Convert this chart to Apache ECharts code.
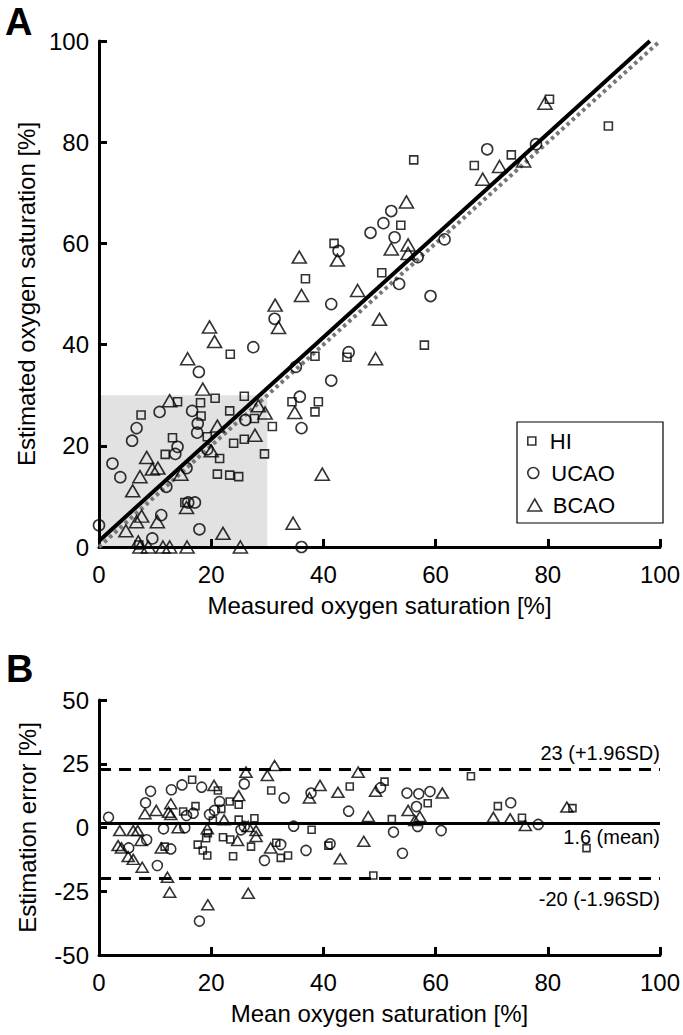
<!DOCTYPE html>
<html><head><meta charset="utf-8">
<script src="https://cdn.jsdelivr.net/npm/echarts@6/dist/echarts.min.js"></script>
<style>html,body{margin:0;padding:0;background:#fff}#c{width:683px;height:1035px}</style>
</head><body><div id="c"></div>
<script>
// ---------- Panel A data: measured vs estimated oxygen saturation [%] ----------
const hiMeasured   = [53.8,41.9,36.8,50.4,58.0,44.2,38.5,34.4,39.1,38.5,30.9,80.3,90.8,73.5,66.9,56.1,23.4,14.0,25.9,20.7,18.1,18.2,7.5,27.7,23.3,19.3,25.9,24.0,13.1,11.8,21.5,29.5,21.1,23.3,24.9,15.3,7.1];
const hiEstimated  = [63.6,60.0,53.0,54.2,39.9,37.5,37.7,28.7,28.7,26.7,23.8,88.5,83.2,77.5,75.4,76.5,38.1,28.7,29.8,29.4,28.5,25.9,26.1,25.4,26.9,21.8,21.3,20.5,21.6,18.3,17.5,18.4,14.4,14.2,13.9,8.8,0.4];
const ucaoMeasured = [52.1,50.7,48.4,52.7,56.8,61.6,42.7,53.5,59.1,31.3,41.4,44.5,35.1,41.4,35.8,36.1,36.1,69.2,77.9,27.5,17.8,10.8,16.6,26.1,17.6,6.7,17.5,5.9,14.0,13.6,19.3,2.4,15.6,3.8,12.0,15.9,17.1,11.1,0,17.9,9.5];
const ucaoEstimated= [66.4,64.0,62.1,61.2,57.3,60.8,58.5,52.0,49.6,45.1,48.0,38.5,35.6,32.9,29.7,23.5,0,78.6,79.6,39.5,34.6,26.7,26.9,25.1,24.4,23.5,22.6,21.0,19.8,18.4,19.3,16.5,15.6,13.8,11.9,8.8,8.8,6.3,4.3,3.5,1.7];
const bcaoMeasured = [54.8,52.1,55.1,55.1,42.5,35.7,36.1,46.1,31.4,32.0,50.0,49.3,34.9,39.8,34.6,79.5,71.4,75.7,68.4,19.7,20.6,15.8,18.5,12.6,28.4,29.6,21.1,27.8,20.0,8.5,9.5,10.5,14.6,7.3,6.0,15.6,7.6,6.7,10.4,4.8,22.1,7.0,7.3,8.8,11.4,12.6,15.7,25.2];
const bcaoEstimated= [68.2,58.9,59.7,58.0,56.7,57.3,49.7,50.7,47.8,43.4,45.0,37.2,26.6,14.4,4.7,87.7,75.2,76.3,72.7,43.5,40.6,37.2,31.2,28.9,27.9,26.5,23.9,22.1,19.0,17.7,15.4,15.6,14.4,13.9,11.1,7.8,6.1,5.0,5.0,3.2,2.7,1.0,0,0,0,0,0,0];
const fitLineX = [0, 98.2];
const fitLineY = [1.2, 100];
const identityX = [0, 100];
const identityY = [0, 100];
const shadedX = [0, 30];
const shadedY = [30, 30];
const panelATicks = [0, 20, 40, 60, 80, 100];

// ---------- Panel B data: Bland-Altman ----------
const hiMean   = [11.7,15.0,17.2,16.6,21.2,21.8,19.4,19.1,17.6,18.5,19.3,20.3,22.1,23.4,23.9,23.3,24.9,24.9,27.7,27.1,31.6,32.4,33.7,30.7,37.9,40.9,44.7,48.9,50.9,52.2,58.6,66.3,71.1,75.4,84.4,86.9];
const hiError  = [-7.5,6.3,8.4,18.7,14.5,7.3,-2.2,-4.2,-6.7,-9.0,-11.0,2.7,-3.8,-4.7,-11.3,10.2,8.9,3.1,3.6,-7.5,-6.0,-11.9,-11.0,14.5,-0.9,-7.1,16.1,-18.8,18.0,3.3,9.5,20.1,8.4,3.8,7.6,-8.1];
const ucaoMean = [1.7,5.3,8.5,8.3,9.2,10.4,11.5,12.9,14.8,12.8,15.3,15.6,16.8,18.3,19.7,20.6,21.5,25.9,25.3,25.9,29.5,32.4,33.0,34.7,36.9,37.8,41.2,44.5,50.2,52.5,54.1,54.9,57.0,59.0,56.6,56.8,61.0,73.4,78.3,17.9];
const ucaoError= [4.0,-8.0,-4.8,9.7,14.2,-14.9,-0.5,14.8,16.7,-8.4,-0.1,4.7,5.6,15.8,5.1,6.7,10.2,17.1,-0.9,0.4,-12.9,-6.7,11.6,0.5,-9.0,13.5,-6.4,6.4,15.6,-1.8,-10.1,13.5,13.2,14.1,8.2,0.4,-1.2,9.7,1.2,-36.7];
const bcaoMean = [3.7,6.1,6.9,3.4,4.0,5.2,6.1,7.7,7.5,8.2,10.2,12.2,12.6,12.8,12.4,12.8,11.1,14.1,20.5,19.3,22.3,24.7,24.9,26.2,26.6,28.0,28.0,26.6,30.6,30.0,31.3,19.4,37.5,39.4,42.6,43.0,46.2,48.0,47.2,49.3,55.1,57.2,56.3,61.2,70.3,73.3,76.0,83.4];
const bcaoError= [-1.2,-1.2,-1.2,-7.1,-8.0,-11.4,-12.5,-15.6,-5.1,5.4,6.7,-19.5,-25.4,9.3,6.0,5.1,-8.0,-0.1,16.5,-0.5,3.0,-5.1,12.5,21.7,0.4,-1.2,-3.5,-25.8,-8.0,20.4,24.3,-30.3,11.6,16.5,13.8,-12.3,21.7,4.3,-5.4,14.2,6.7,4.3,2.7,13.5,4.0,3.4,0.8,8.0];
const meanError = 1.6;
const upperLoA = 23;
const lowerLoA = -20;
const panelBYTicks = [-50, -25, 0, 25, 50];

const groupNames = ['HI', 'UCAO', 'BCAO'];
const FONT = 'Liberation Sans, Arial, Helvetica, sans-serif';
const zip = (a, b) => a.map((v, i) => [v, b[i]]);

function valueAxis(gridIndex, min, max, interval, name, nameGap) {
  return {
    type: 'value', gridIndex, min, max, interval,
    name, nameLocation: 'middle', nameGap,
    nameTextStyle: { fontSize: 24, color: '#000', fontFamily: FONT },
    axisLine: { show: true, onZero: false, lineStyle: { color: '#000', width: 3 } },
    axisTick: { show: true, inside: true, length: 8, lineStyle: { color: '#000', width: 3 } },
    axisLabel: { fontSize: 24, color: '#000', fontFamily: FONT },
    splitLine: { show: false }
  };
}
const hollow = { color: 'transparent', borderColor: '#000', borderWidth: 1.6 };

const xA = valueAxis(0, panelATicks[0], panelATicks[panelATicks.length-1], 20, 'Measured oxygen saturation [%]', 46);
xA.axisLabel.margin = 15;
const yA = valueAxis(0, panelATicks[0], panelATicks[panelATicks.length-1], 20, 'Estimated oxygen saturation [%]', 60);
yA.axisLabel.margin = 10;
const xB = valueAxis(1, 0, 100, 20, 'Mean oxygen saturation [%]', 46);
xB.axisLabel.margin = 15;
const yB = valueAxis(1, panelBYTicks[0], panelBYTicks[panelBYTicks.length-1], 25, 'Estimation error [%]', 60);
yB.axisLabel.margin = 10;

const legendIcons = [
  'path://M0,0H10V10H0Z',
  'path://M10,5A5,5,0,1,1,0,5A5,5,0,1,1,10,5Z',
  'path://M6,0L12,10.4L0,10.4Z'
];
const legendSizes = [8, 11, 12];
const legendTops = [430, 462, 494];
function legendItem(i) {
  return {
    data: [{ name: groupNames[i], icon: legendIcons[i] }],
    left: 527, top: legendTops[i], orient: 'vertical', padding: 0,
    itemWidth: 26, itemHeight: legendSizes[i], symbolKeepAspect: true, selectedMode: false, z: 10,
    itemStyle: { color: 'transparent', borderColor: '#000', borderWidth: 1.6 },
    textStyle: { fontSize: 22, color: '#000', fontFamily: FONT }
  };
}

const option = {
  animation: false,
  textStyle: { fontFamily: FONT },
  title: [
    { text: 'A', left: 0, top: -2, textStyle: { fontSize: 38, fontWeight: 'bold', color: '#000', fontFamily: FONT } },
    { text: 'B', left: 1, top: 645, textStyle: { fontSize: 38, fontWeight: 'bold', color: '#000', fontFamily: FONT } }
  ],
  grid: [
    { left: 99, top: 41, width: 563, height: 506 },
    { left: 99, top: 700, width: 563, height: 255 }
  ],
  xAxis: [xA, xB],
  yAxis: [yA, yB],
  legend: [legendItem(0), legendItem(1), legendItem(2)],
  graphic: [
    { type: 'rect', z: 5, shape: { x: 517, y: 422, width: 146, height: 101 }, style: { fill: '#fff', stroke: '#000', lineWidth: 1.2 } }
  ],
  series: [
    { name: 'shaded', type: 'line', xAxisIndex: 0, yAxisIndex: 0, data: zip(shadedX, shadedY), symbol: 'none', z: 0,
      lineStyle: { width: 0 }, areaStyle: { color: '#e2e2e2', opacity: 1 }, silent: true },
    { name: 'identity', type: 'line', xAxisIndex: 0, yAxisIndex: 0, data: zip(identityX, identityY), symbol: 'none', z: 1,
      lineStyle: { color: '#777', width: 4, type: [3.5, 3.5] }, silent: true },
    { name: 'fit', type: 'line', xAxisIndex: 0, yAxisIndex: 0, data: zip(fitLineX, fitLineY), symbol: 'none', z: 1,
      lineStyle: { color: '#000', width: 4 }, silent: true },
    { name: groupNames[0], type: 'scatter', xAxisIndex: 0, yAxisIndex: 0, data: zip(hiMeasured, hiEstimated), symbol: 'rect', symbolSize: 8, itemStyle: hollow, z: 3 },
    { name: groupNames[1], type: 'scatter', xAxisIndex: 0, yAxisIndex: 0, data: zip(ucaoMeasured, ucaoEstimated), symbol: 'circle', symbolSize: 11, itemStyle: hollow, z: 3 },
    { name: groupNames[2], type: 'scatter', xAxisIndex: 0, yAxisIndex: 0, data: zip(bcaoMeasured, bcaoEstimated), symbol: 'triangle', symbolSize: [14, 12], itemStyle: hollow, z: 3 },

    { name: 'HI-B', type: 'scatter', xAxisIndex: 1, yAxisIndex: 1, data: zip(hiMean, hiError), symbol: 'rect', symbolSize: 7, itemStyle: hollow, z: 3 },
    { name: 'UCAO-B', type: 'scatter', xAxisIndex: 1, yAxisIndex: 1, data: zip(ucaoMean, ucaoError), symbol: 'circle', symbolSize: 10, itemStyle: hollow, z: 3 },
    { name: 'BCAO-B', type: 'scatter', xAxisIndex: 1, yAxisIndex: 1, data: zip(bcaoMean, bcaoError), symbol: 'triangle', symbolSize: [12, 10], itemStyle: hollow, z: 3,
      markLine: {
        silent: true, symbol: 'none', animation: false,
        data: [
          { yAxis: upperLoA, lineStyle: { color: '#000', width: 3, type: [12, 8] },
            label: { show: true, position: 'insideEndTop', distance: [0, 6], formatter: upperLoA + ' (+1.96SD)', fontSize: 20, color: '#000', fontFamily: FONT } },
          { yAxis: meanError, lineStyle: { color: '#000', width: 3, type: 'solid' },
            label: { show: true, position: 'insideEndBottom', distance: [0, 4], formatter: meanError + ' (mean)', fontSize: 20, color: '#000', fontFamily: FONT } },
          { yAxis: lowerLoA, lineStyle: { color: '#000', width: 3, type: [12, 8] },
            label: { show: true, position: 'insideEndBottom', distance: [0, 10], formatter: lowerLoA + ' (-1.96SD)', fontSize: 20, color: '#000', fontFamily: FONT } }
        ]
      }
    }
  ]
};
const chart = echarts.init(document.getElementById('c'), null, { renderer: 'svg' });
chart.setOption(option);
</script>
</body></html>
